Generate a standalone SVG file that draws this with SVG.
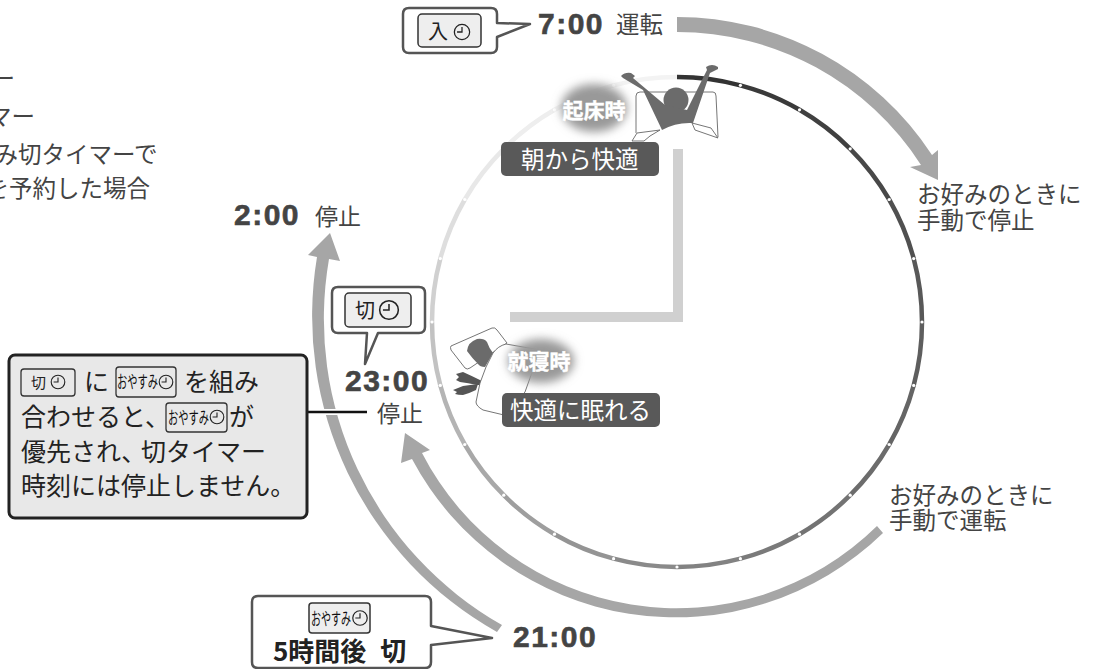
<svg xmlns="http://www.w3.org/2000/svg" width="1095" height="669" viewBox="0 0 1095 669">
<style>
text{font-family:"Noto Sans CJK JP","Noto Sans",sans-serif;fill:#444;font-size:23.5px}
.t{font-family:"Liberation Sans",sans-serif;font-weight:bold;font-size:30px;letter-spacing:1.5px;fill:#444;stroke:#444;stroke-width:.6px}
.d{fill:#222;font-size:25px}
.w{fill:#fff;font-size:23.5px}
.wb{fill:#fff;font-weight:bold;font-size:21px;text-anchor:middle}
.band{fill:#a6a6a6}
.call{fill:#fff;stroke:#555;stroke-width:2.5;stroke-linejoin:round}
.btn{fill:#eee;stroke:#333;stroke-width:1.5}
.btn2{fill:#e8e8e8;stroke:#333;stroke-width:1.3}
.ck{fill:none;stroke:#222;stroke-width:1.4}
.ring{fill:none;stroke-width:4.5}
.dot{fill:#fff}
.sil{fill:#6b6b6b}
.ln{fill:#fff;stroke:#666;stroke-width:.9}
.kn{font-size:17px;fill:#111}
</style>
<defs>
<filter id="blur" x="-40%" y="-40%" width="180%" height="180%"><feGaussianBlur stdDeviation="5"/></filter>
<g id="clk" class="ck"><circle r="8.5"/><path d="M0-5.5V0H-5.5"/></g>
</defs>
<rect width="1095" height="669" fill="#fff"/>

<g id="legend">
<text x="-8.5" y="87">ー</text>
<text x="-12" y="125">マー</text>
<text x="-5.5" y="163">み切タイマーで</text>
<text x="-14.5" y="197">を予約した場合</text>
</g>

<g id="clock">
<path d="M510 317H678V149" fill="none" stroke="#d0d0d0" stroke-width="10"/>
<path class="ring" stroke="#333" d="M677 77A245 245 0 0 1 740.4 85.3"/>
<path class="ring" stroke="#3a3a3a" d="M740.4 85.3A245 245 0 0 1 799.5 109.8"/>
<path class="ring" stroke="#404040" d="M799.5 109.8A245 245 0 0 1 850.2 148.8"/>
<path class="ring" stroke="#484848" d="M850.2 148.8A245 245 0 0 1 889.2 199.5"/>
<path class="ring" stroke="#505050" d="M889.2 199.5A245 245 0 0 1 913.7 258.6"/>
<path class="ring" stroke="#585858" d="M913.7 258.6A245 245 0 0 1 922 322"/>
<path class="ring" stroke="#5e5e5e" d="M922 322A245 245 0 0 1 913.7 385.4"/>
<path class="ring" stroke="#656565" d="M913.7 385.4A245 245 0 0 1 889.2 444.5"/>
<path class="ring" stroke="#6c6c6c" d="M889.2 444.5A245 245 0 0 1 850.2 495.2"/>
<path class="ring" stroke="#737373" d="M850.2 495.2A245 245 0 0 1 799.5 534.2"/>
<path class="ring" stroke="#7a7a7a" d="M799.5 534.2A245 245 0 0 1 740.4 558.7"/>
<path class="ring" stroke="#828282" d="M740.4 558.7A245 245 0 0 1 677 567"/>
<path class="ring" stroke="#8a8a8a" d="M677 567A245 245 0 0 1 613.6 558.7"/>
<path class="ring" stroke="#949494" d="M613.6 558.7A245 245 0 0 1 554.5 534.2"/>
<path class="ring" stroke="#9e9e9e" d="M554.5 534.2A245 245 0 0 1 503.8 495.2"/>
<path class="ring" stroke="#a8a8a8" d="M503.8 495.2A245 245 0 0 1 464.8 444.5"/>
<path class="ring" stroke="#b4b4b4" d="M464.8 444.5A245 245 0 0 1 440.3 385.4"/>
<path class="ring" stroke="#c2c2c2" d="M440.3 385.4A245 245 0 0 1 432 322"/>
<path class="ring" stroke="#d0d0d0" d="M432 322A245 245 0 0 1 440.3 258.6"/>
<path class="ring" stroke="#dedede" d="M440.3 258.6A245 245 0 0 1 464.8 199.5"/>
<path class="ring" stroke="#e8e8e8" d="M464.8 199.5A245 245 0 0 1 503.8 148.8"/>
<path class="ring" stroke="#eeeeee" d="M503.8 148.8A245 245 0 0 1 554.5 109.8"/>
<path class="ring" stroke="#f1f1f1" d="M554.5 109.8A245 245 0 0 1 613.6 85.3"/>
<path class="ring" stroke="#f3f3f3" d="M613.6 85.3A245 245 0 0 1 677 77"/>
<g class="dot">
<circle cx="740.4" cy="85.3" r="1.6"/><circle cx="799.5" cy="109.8" r="1.6"/><circle cx="850.2" cy="148.8" r="1.6"/><circle cx="889.2" cy="199.5" r="1.6"/><circle cx="913.7" cy="258.6" r="1.6"/><circle cx="922" cy="322" r="1.6"/><circle cx="913.7" cy="385.4" r="1.6"/><circle cx="889.2" cy="444.5" r="1.6"/><circle cx="850.2" cy="495.2" r="1.6"/><circle cx="799.5" cy="534.2" r="1.6"/><circle cx="740.4" cy="558.7" r="1.6"/><circle cx="677" cy="567" r="1.6"/><circle cx="613.6" cy="558.7" r="1.6"/><circle cx="554.5" cy="534.2" r="1.6"/><circle cx="503.8" cy="495.2" r="1.6"/><circle cx="464.8" cy="444.5" r="1.6"/><circle cx="440.3" cy="385.4" r="1.6"/><circle cx="432" cy="322" r="1.6"/><circle cx="440.3" cy="258.6" r="1.6"/><circle cx="464.8" cy="199.5" r="1.6"/><circle cx="503.8" cy="148.8" r="1.6"/><circle cx="554.5" cy="109.8" r="1.6"/><circle cx="613.6" cy="85.3" r="1.6"/>
</g>
</g>

<g id="connectors">
<path class="band" d="M677 17A305 305 0 0 1 932 155L938 150V180L910 167L921 165A290 290 0 0 0 677 32Z"/>
<path class="band" d="M877 526A286 286 0 0 1 422 453L430 450L405 433L401 463L412 459A298 298 0 0 0 883 533Z"/>
<path class="band" d="M502 625A352 352 0 0 1 329 259L340 261L330 233L308 255L317 257A362 362 0 0 0 497 632Z"/>
<path d="M308 412H367" stroke="#fff" stroke-width="6" fill="none"/>
<path d="M308 412H367" stroke="#111" stroke-width="2.5" fill="none"/>
</g>

<g id="wake">
<ellipse cx="594" cy="108" rx="33" ry="24" fill="#999" filter="url(#blur)"/>
<path d="M636 133V96Q636 92 640 92H713Q716 92 716 96L718 137" fill="none" stroke="#666" stroke-width=".9"/>
<path class="ln" d="M632 141L637 133L660 130L650 136L644 141Z"/>
<path class="ln" d="M692 123L711 128L718 138L695 130Z"/>
<circle class="sil" cx="676" cy="100" r="12.5"/>
<path class="sil" d="M621 76Q625 72 631 73L635 76L633 78L665 105L687 110L707 70L706 67Q712 63 718 67V69L710 73L693 123Q676 122 662 130L643 90L623 78Z"/>
<text class="wb" x="594" y="118" stroke="#fff" stroke-width=".4">起床時</text>
<rect x="501" y="142" width="158" height="34" rx="5" fill="#595959"/>
<text class="w" x="521" y="168">朝から快適</text>
</g>

<g id="sleep">
<path class="ln" d="M451 346L492 328Q495 327 497 330L507 343L470 368Q467 370 465 368L451 350Q450 347 451 346Z"/>
<path class="sil" d="M467 351Q468 342 477 339Q484 338 487 342Q489 348 493 353L485 367Q480 367 478 364Q472 358 467 351Z"/>
<path fill="#555" d="M456 374L463 372Q472 376 482 381L481 385L477 385Q468 383 460 382L456 380L459 377Z"/>
<path fill="#555" d="M453 390L463 386Q470 385 478 384L476 390Q470 393 463 395Q458 395 455 394L457 392Z"/>
<path class="ln" d="M493 353Q498 346 506 344L540 350L525 392L504 415L483 410Q476 406 476 402L480 383L486 367Z"/>
<ellipse cx="541" cy="361" rx="33" ry="22" fill="#999" filter="url(#blur)"/>
<text class="wb" x="539" y="369" stroke="#fff" stroke-width=".4">就寝時</text>
<rect x="502" y="393" width="158" height="34" rx="5" fill="#595959"/>
<text class="w" x="510" y="419">快適に眠れる</text>
</g>

<g id="on-callout">
<path class="call" d="M409 8H491Q497 8 497 14V23L530 24L497 37V47Q497 53 491 53H409Q403 53 403 47V14Q403 8 409 8Z"/>
<rect class="btn" x="418" y="14" width="63" height="33" rx="4"/>
<text x="428" y="39" style="font-size:20px;fill:#222">入</text>
<use href="#clk" transform="translate(462 32) scale(.9)"/>
</g>
<g id="t700">
<text class="t" x="538" y="34">7:00</text>
<text x="616" y="33">運転</text>
</g>

<g id="off-callout">
<path class="call" d="M338 287H419Q425 287 425 293V327Q425 333 419 333H378L365 364L367 333H338Q332 333 332 327V293Q332 287 338 287Z"/>
<rect class="btn" x="345" y="293" width="66" height="34" rx="4"/>
<text x="355" y="318" style="font-size:20px;fill:#222">切</text>
<use href="#clk" transform="translate(389 310) scale(1.1)"/>
</g>
<g id="t2300">
<text class="t" x="345" y="391">23:00</text>
<text x="377" y="422" style="font-size:23px">停止</text>
</g>
<g id="t200">
<text class="t" x="234" y="225">2:00</text>
<text x="315" y="225" style="font-size:23px">停止</text>
</g>
<g id="t2100">
<text class="t" x="513" y="647">21:00</text>
</g>

<g id="note">
<rect x="9" y="355" width="298" height="163" rx="6" fill="#e8e8e8" stroke="#222" stroke-width="3"/>
<rect class="btn2" x="21" y="369" width="54" height="27" rx="3"/>
<text x="31" y="388" style="font-size:15px;fill:#222">切</text>
<use href="#clk" transform="translate(58 382) scale(.8)"/>
<text class="d" x="84" y="391">に</text>
<rect class="btn2" x="116" y="367" width="60" height="30" rx="3"/>
<text class="kn" x="117" y="388" textLength="41" lengthAdjust="spacingAndGlyphs">おやすみ</text>
<use href="#clk" transform="translate(166 382) scale(.8)"/>
<text class="d" x="184" y="391">を組み</text>
<text class="d" x="21" y="426">合わせると、</text>
<rect class="btn2" x="166" y="403" width="61" height="29" rx="3"/>
<text class="kn" x="168" y="424" textLength="41" lengthAdjust="spacingAndGlyphs">おやすみ</text>
<use href="#clk" transform="translate(217 417) scale(.8)"/>
<text class="d" x="229" y="426">が</text>
<text class="d" x="21" y="461">優先され、</text>
<text class="d" x="141" y="461">切タイマー</text>
<text class="d" x="21" y="495">時刻には停止しません。</text>
</g>

<g id="sleep-callout">
<path class="call" d="M258 596H425Q431 596 431 602V626L492 638L431 645V662Q431 668 425 668H258Q252 668 252 662V602Q252 596 258 596Z"/>
<rect class="btn" x="309" y="603" width="61" height="30" rx="3"/>
<text class="kn" x="311" y="625" textLength="40" lengthAdjust="spacingAndGlyphs">おやすみ</text>
<use href="#clk" transform="translate(360 618) scale(.85)"/>
<text x="273" y="661" word-spacing="8" style="font-size:26px;font-weight:bold;fill:#222">5時間後 切</text>
</g>

<g id="manual-off">
<text x="917" y="203">お好みのときに</text>
<text x="917" y="229">手動で停止</text>
</g>
<g id="manual-on">
<text x="889" y="504">お好みのときに</text>
<text x="889" y="529">手動で運転</text>
</g>
</svg>
